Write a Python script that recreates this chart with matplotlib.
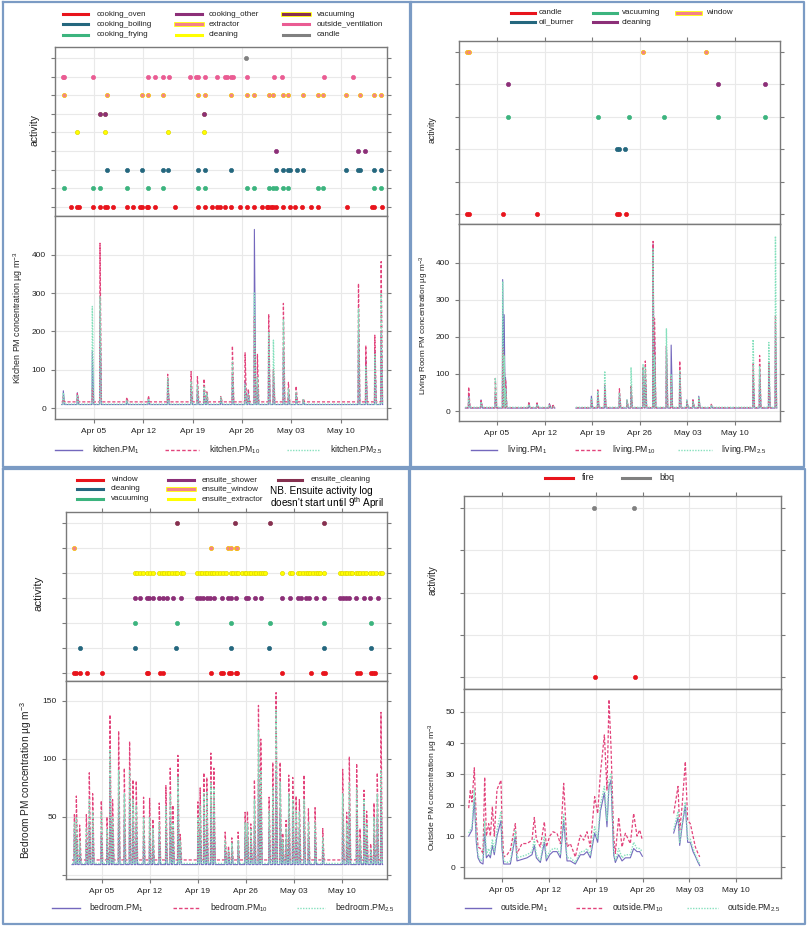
import matplotlib
matplotlib.use('Agg')
import matplotlib.pyplot as plt
import numpy as np
from matplotlib.lines import Line2D

plt.rcParams['font.family'] = ['Liberation Sans', 'DejaVu Sans']
plt.rcParams['mathtext.fontset'] = 'custom'
plt.rcParams['mathtext.rm'] = 'Liberation Sans'
plt.rcParams['mathtext.it'] = 'Liberation Sans:italic'

W, H = 807, 927

# x axis: days after 1 April
tick_days = [4, 11, 18, 25, 32, 39]
tick_labels = ['Apr 05', 'Apr 12', 'Apr 19', 'Apr 26', 'May 03', 'May 10']

# ---------------- kitchen activity log ----------------
kit_oven = [0.73, 1.54, 1.82, 3.81, 4.85, 5.56, 5.80, 6.75, 8.73, 9.59, 10.53, 10.77, 11.48, 11.72,
            12.71, 15.51, 18.73, 19.77, 20.81, 21.52, 21.90, 22.61, 23.46, 24.74, 25.69, 26.77,
            27.82, 28.53, 28.76, 29.09, 29.47, 29.85, 30.89, 31.84, 32.55, 33.50, 34.78, 35.87,
            39.89, 43.54, 43.77, 44.86]
kit_frying = [-0.21, 3.81, 4.85, 8.73, 11.72, 13.75, 18.73, 19.77, 25.78, 26.77, 28.90, 29.47,
              29.85, 30.89, 31.60, 35.87, 36.48, 43.77, 44.77]
kit_boiling = [5.80, 8.73, 10.77, 13.75, 14.46, 18.73, 19.77, 23.41, 29.85, 30.89, 31.60, 31.84,
               32.79, 33.73, 39.80, 41.55, 41.78, 43.77, 44.77]
kit_vacuuming = [29.85, 41.55, 42.49]
kit_cleaning = [1.54, 5.56, 14.46, 19.67]
kit_other = [4.85, 5.61, 19.67]
kit_extractor = [-0.21, 5.80, 10.77, 11.72, 13.75, 18.73, 19.77, 23.41, 25.78, 26.77, 28.90, 29.47,
                 30.89, 31.60, 33.73, 35.87, 36.48, 39.80, 41.78, 43.77, 44.77]
kit_outside_vent = [-0.45, -0.21, 3.81, 11.72, 12.71, 13.75, 14.70, 17.64, 18.49, 18.73, 19.77,
                    21.52, 22.66, 22.94, 23.41, 23.79, 25.78, 29.57, 30.70, 36.67, 40.74]
kit_candle = [25.54]

# kitchen PM spikes: day, PM1, PM10, PM2.5 peaks
kit_days = [-0.36, 1.63, 3.76, 4.85, 8.64, 11.72, 14.46, 17.78, 18.68, 19.62, 20.0, 22.0, 23.65,
            25.45, 25.9, 26.77, 27.2, 28.8, 29.47, 30.89, 31.6, 32.69, 33.7, 41.55, 42.59, 43.87, 44.77]
kit_pm1 = [45, 40, 150, 250, 18, 25, 75, 60, 50, 45, 35, 25, 90, 70, 40, 466, 60, 185, 95, 155, 40,
           35, 20, 200, 125, 150, 195]
kit_pm10 = [30, 38, 50, 430, 28, 32, 88, 95, 82, 76, 45, 30, 162, 144, 50, 238, 140, 245, 100, 273,
            67, 57, 25, 325, 163, 190, 382]
kit_pm25 = [40, 35, 265, 290, 20, 25, 80, 70, 60, 55, 40, 28, 120, 60, 35, 300, 80, 200, 177, 230,
            50, 40, 22, 260, 110, 140, 300]
kit_base = [9, 16, 10]

# ---------------- living room activity log ----------------
liv_candle = [-0.46, -0.12, 4.93, 9.83, 21.70, 21.99, 22.92]
liv_oil_burner = [21.70, 21.99, 22.87]
liv_vacuuming = [5.57, 18.80, 23.46, 28.61, 36.45, 43.41]
liv_cleaning = [5.57, 36.45, 43.41]
liv_window = [-0.36, -0.12, 25.52, 34.69]

liv_days = [-0.17, 1.65, 3.75, 4.83, 5.05, 5.25, 8.66, 9.88, 11.7, 12.2, 17.87, 18.8, 19.83, 21.99,
            23.1, 23.7, 25.47, 25.8, 26.94, 27.15, 28.9, 29.6, 30.86, 31.9, 32.8, 33.66, 35.5,
            41.65, 42.6, 43.95, 44.93]
liv_pm1 = [45, 30, 50, 355, 260, 90, 22, 20, 20, 15, 40, 50, 70, 45, 30, 60, 110, 100, 450, 200,
           175, 178, 100, 30, 30, 40, 15, 95, 110, 125, 240]
liv_pm10 = [65, 28, 88, 170, 150, 85, 25, 22, 18, 18, 30, 60, 70, 60, 28, 70, 120, 135, 458, 250,
            175, 95, 135, 25, 30, 35, 18, 130, 150, 130, 258]
liv_pm25 = [35, 25, 90, 350, 150, 60, 18, 18, 15, 12, 35, 55, 108, 50, 30, 118, 125, 120, 440, 150,
            222, 100, 110, 28, 25, 38, 15, 193, 120, 185, 472]
liv_base = [8, 9, 10]
liv_gap = (12.5, 15.6)

# ---------------- bedroom activity log ----------------
bed_window = [-0.08, 0.21, 0.79, 1.86, 3.95, 10.51, 10.75, 12.45, 12.84, 19.84, 21.35, 21.69, 22.56,
              22.80, 23.53, 23.73, 30.34, 34.56, 36.26, 36.51, 41.22, 41.61, 43.31, 43.55, 43.80]
bed_cleaning = [0.79, 8.81, 14.79, 22.80, 28.39, 36.36, 43.21]
bed_vacuuming = [8.81, 14.88, 22.80, 28.49, 36.36, 43.21]
bed_ens_shower = [8.81, 9.54, 10.51, 10.90, 11.39, 12.36, 12.94, 13.43, 14.40, 15.47, 17.90, 18.29,
                  18.77, 19.26, 19.74, 20.33, 21.59, 22.42, 22.80, 23.63, 25.09, 25.33, 26.30, 27.27,
                  30.34, 31.41, 32.62, 33.11, 33.84, 34.22, 35.20, 36.36, 38.69, 39.18, 39.67, 40.05,
                  41.03, 42.19, 43.16, 44.28]
bed_ens_extractor = [8.81, 9.15, 9.54, 10.03, 10.61, 11.00, 11.48, 12.36, 12.70, 13.04, 13.43, 13.82,
                     14.25, 14.59, 14.88, 15.47, 15.86, 17.90, 18.29, 18.67, 19.01, 19.35, 19.74,
                     20.03, 20.33, 20.72, 21.20, 21.69, 22.17, 22.76, 23.14, 23.63, 23.92, 24.51,
                     24.85, 25.09, 25.43, 25.82, 26.16, 26.55, 26.89, 27.27, 27.52, 27.86, 30.34,
                     31.50, 31.79, 32.62, 32.96, 33.35, 33.74, 34.08, 34.42, 34.81, 35.20, 35.54,
                     35.88, 36.36, 38.69, 39.03, 39.42, 39.76, 40.15, 40.54, 41.03, 41.37, 41.71,
                     42.10, 42.58, 43.07, 43.55, 44.04, 44.52, 44.91]
bed_ens_window = [-0.08, 19.84, 22.46, 22.76, 23.53, 23.73]
bed_ens_cleaning = [14.88, 23.48, 28.49, 36.36]

bed_days = [-0.03, 0.26, 0.74, 1.72, 2.15, 2.64, 3.9, 4.73, 5.17, 5.55, 6.43, 7.26, 8.03, 8.52, 9.0,
            10.07, 10.95, 11.43, 12.36, 13.33, 13.96, 14.35, 15.08, 15.42, 18.0, 18.33, 18.87, 19.3,
            19.89, 20.33, 21.98, 22.46, 22.95, 23.87, 24.89, 25.23, 25.72, 26.25, 26.84, 27.18,
            28.39, 28.93, 29.41, 30.0, 30.38, 30.87, 31.26, 31.84, 32.33, 32.81, 33.49, 34.13,
            35.1, 36.22, 39.13, 39.71, 40.1, 41.17, 41.66, 42.24, 42.63, 43.21, 43.7, 44.18, 44.72]
bed_pm1 = [40, 35, 25, 30, 45, 40, 35, 30, 85, 40, 60, 50, 65, 45, 45, 35, 35, 30, 35, 40, 50, 35,
           60, 25, 35, 40, 50, 45, 60, 55, 25, 20, 22, 25, 35, 35, 30, 45, 85, 65, 40, 55, 90, 55,
           25, 30, 50, 50, 40, 40, 50, 35, 35, 25, 50, 30, 55, 55, 25, 60, 35, 20, 35, 50, 73]
bed_pm10 = [52, 68, 43, 52, 88, 70, 64, 50, 138, 65, 124, 92, 115, 82, 81, 67, 66, 48, 62, 77, 92,
            60, 103, 35, 63, 75, 88, 84, 105, 92, 37, 25, 32, 37, 54, 55, 44, 82, 146, 117, 67, 97,
            157, 97, 36, 47, 86, 84, 68, 65, 86, 57, 58, 40, 91, 54, 102, 96, 40, 73, 55, 27, 62,
            88, 140]
bed_pm25 = [45, 50, 30, 40, 65, 55, 55, 40, 108, 50, 90, 70, 90, 65, 60, 50, 50, 40, 45, 60, 70, 45,
            85, 30, 50, 60, 70, 72, 80, 75, 30, 22, 28, 30, 45, 45, 40, 65, 125, 90, 55, 75, 142,
            80, 30, 40, 70, 65, 55, 55, 65, 45, 45, 32, 70, 45, 80, 75, 30, 65, 45, 22, 50, 70, 90]
bed_base = [9, 13, 10]

# ---------------- outside activity log ----------------
out_fire = [17.90, 23.88]
out_bbq = [17.75, 23.73]

out_days = [-0.98, -0.73, -0.48, -0.14, 0.16, 0.41, 0.76, 1.16, 1.41, 1.66, 2.01, 2.26, 2.56, 2.85,
            3.25, 3.85, 4.0, 4.25, 4.75, 5.25, 5.99, 6.24, 6.99, 7.74, 8.48, 8.83, 9.13, 9.73, 10.33,
            10.63, 11.13, 11.62, 12.22, 12.72, 13.22, 13.72, 14.21, 14.96, 15.71, 16.21, 16.71,
            17.20, 17.85, 18.30, 18.70, 19.30, 19.69, 19.99, 20.29, 20.69, 20.94, 21.44, 21.94,
            22.44, 23.18, 23.68, 24.18, 24.58, 24.98, 25.0,
            29.66, 30.31, 30.56, 30.91, 31.40, 31.75, 32.15, 32.55, 32.90, 33.30, 33.55]
out_pm10 = [19, 25, 21, 32, 15, 6.5, 6, 4.4, 29, 10, 14, 10, 19.5, 10, 25, 28, 14, 3.3, 4, 5.5, 14,
            4.4, 7.6, 7.6, 8.7, 16, 9, 6.5, 14.6, 6.5, 10, 11.4, 10.9, 7.6, 27, 6.5, 7.6, 3.3, 10.3,
            8.7, 11.4, 6.5, 22.7, 17.3, 30, 42.6, 24.8, 54, 38.8, 10, 4.4, 16, 6.5, 10.9, 7.6, 17.3,
            10, 12, 8.7, np.nan,
            17.3, 26, 12, 19.5, 34, 15, 14, 10, 6.5, 4.4, 3.3]
out_pm25 = [11, 12, 13, 25, 10, 4, 2, 2.5, 15, 4, 6, 4, 9, 5, 12, 18, 8, 2, 1.5, 2, 12, 3, 3.5, 4, 5,
            9, 4, 2, 10, 3, 5, 6, 6, 4, 17, 3, 3, 1.5, 5, 5, 6, 4, 13, 9, 20, 26, 15, 28, 30, 5, 2, 6,
            3, 4, 4, 8, 6, 6, 5, np.nan,
            12, 18, 8, 14, 21, 9, 9, 6, 4, 2, 1]
out_pm1 = [10, 11, 12, 22, 8, 3, 1.5, 1, 12, 3, 4, 3, 7, 4, 10, 15, 6, 1, 1, 1, 10, 2, 2.5, 3, 4, 7,
           3, 1.5, 8, 2, 4, 5, 5, 3, 15, 2, 2, 1, 4, 4, 5, 3, 11, 8, 18, 24, 13, 26, 28, 4, 1.5, 4,
           2, 3, 3, 6, 5, 5, 3.5, np.nan,
           11, 16, 7, 13, 20, 8, 8, 5, 3.5, 1.5, 0.5]

# ---------------- styles ----------------
RED, TEAL, GREEN = '#e8141c', '#24677e', '#3cb47e'
PURPLE, MAROON, SALMON = '#8c2f78', '#86304f', '#f3818a'
YELLOW, PINK, GRAY = '#ffff00', '#ea5c93', '#808080'
PM1_C, PM10_C, PM25_C = '#7468bd', '#e2437b', '#86e0bd'
FRAME = '#7a7a7a'
GRID = '#e9e9e9'

fig = plt.figure(figsize=(W / 100, H / 100), dpi=100)


def px_axes(x0, y0, x1, y1):
    return fig.add_axes([x0 / W, 1 - y1 / H, (x1 - x0) / W, (y1 - y0) / H])


def style_frame(ax):
    for s in ax.spines.values():
        s.set_color(FRAME)
        s.set_linewidth(1.0)
    ax.tick_params(colors=FRAME, labelcolor='#222222', length=3, width=0.8, labelsize=6)
    ax.set_axisbelow(True)
    ax.grid(True, color=GRID, lw=0.8)


def activity_axes(rect, xlim, ylim, nlev, rows, top_ticks=True):
    ax = px_axes(*rect)
    style_frame(ax)
    for lev, days, fc, ec in rows:
        ax.plot(days, [lev] * len(days), 'o', ms=3.0, mfc=fc, mec=ec, mew=0.5, ls='none')
    ax.set_xlim(*xlim)
    ax.set_ylim(*ylim)
    ax.set_yticks(range(1, nlev + 1))
    ax.set_xticks(tick_days)
    ax.tick_params(axis='y', left=True, right=True, labelleft=False)
    ax.tick_params(axis='x', bottom=False, top=top_ticks, labelbottom=False)
    return ax


def spike_series(start, end, base, days, peaks, gap=None):
    pts = [(start, base), (end, base)]
    for d, p in zip(days, peaks):
        pts += [(d - 0.05, base), (d, p), (d + 0.2, base)]
    if gap:
        pts += [(gap[0], base), (gap[0] + 0.01, np.nan), (gap[1], base)]
    pts.sort(key=lambda t: t[0])
    x, y = zip(*pts)
    return np.array(x), np.array(y)


def pm_axes(rect, xlim, ylim, yticks, ylabels, series):
    ax = px_axes(*rect)
    style_frame(ax)
    (x1, y1), (x10, y10), (x25, y25) = series
    ax.plot(x1, y1, color=PM1_C, lw=0.8)
    ax.plot(x10, y10, color=PM10_C, lw=0.9, dashes=(2.5, 1.5))
    ax.plot(x25, y25, color=PM25_C, lw=1.0, dashes=(1, 1))
    ax.set_xlim(*xlim)
    ax.set_ylim(*ylim)
    ax.set_xticks(tick_days)
    ax.set_xticklabels(tick_labels)
    ax.set_yticks(yticks)
    ax.set_yticklabels(ylabels)
    ax.tick_params(axis='y', left=True, right=True)
    return ax


def legend_row(y, entries, size=5.8):
    # entries: (line x0, line x1, text x, color, edge, kind, label)
    for x0, x1, xt, col, edge, kind, lab in entries:
        if kind == 'act':
            if edge:
                fig.add_artist(Line2D([x0 / W, x1 / W], [1 - y / H] * 2, color=edge, lw=3.4,
                                      transform=fig.transFigure))
            fig.add_artist(Line2D([x0 / W, x1 / W], [1 - y / H] * 2, color=col, lw=2.2,
                                  transform=fig.transFigure))
        else:
            dash = {'solid': None, 'dash': (2.5, 1.5), 'dot': (1, 1)}[kind]
            ln = Line2D([x0 / W, x1 / W], [1 - y / H] * 2, color=col, lw=1.0,
                        transform=fig.transFigure)
            if dash:
                ln.set_dashes(dash)
            fig.add_artist(ln)
        fig.text(xt / W, 1 - y / H, lab, fontsize=size, va='center', ha='left', color='#222222')


def vlabel(x, y, s, size):
    fig.text(x / W, 1 - y / H, s, rotation=90, fontsize=size, ha='center', va='center',
             color='#222222')


def pm_legend(y, xs, room):
    labs = [room + r'.PM$_{1}$', room + r'.PM$_{10}$', room + r'.PM$_{2.5}$']
    kinds = ['solid', 'dash', 'dot']
    cols = [PM1_C, PM10_C, PM25_C]
    legend_row(y, [(a, b, c, col, None, k, l) for (a, b, c), col, k, l in zip(xs, cols, kinds, labs)],
               size=6.2)


UNIT = r' PM concentration µg m$^{-3}$'

# ---------------- kitchen ----------------
activity_axes((55, 47, 387, 216), (-1.54, 45.6), (0.5, 9.6), 9,
              [(1, kit_oven, RED, RED), (2, kit_frying, GREEN, GREEN), (3, kit_boiling, TEAL, TEAL),
               (4, kit_vacuuming, PURPLE, PURPLE), (5, kit_cleaning, YELLOW, '#e0d800'),
               (6, kit_other, PURPLE, MAROON), (7, kit_extractor, SALMON, '#f5c000'),
               (8, kit_outside_vent, PINK, PINK), (9, kit_candle, GRAY, GRAY)], top_ticks=False)
pm_axes((55, 216, 387, 419), (-1.54, 45.6), (-28.7, 501), [0, 100, 200, 300, 400],
        ['0', '100', '200', '300', '400'],
        [spike_series(-0.6, 44.98, b, kit_days, pk) for b, pk in zip(kit_base, [kit_pm1, kit_pm10, kit_pm25])])
legend_row(14, [(63, 88, 97, RED, None, 'act', 'cooking_oven'),
                (176, 202, 209, PURPLE, None, 'act', 'cooking_other'),
                (283, 309, 317, MAROON, YELLOW, 'act', 'vacuuming')])
legend_row(24, [(63, 88, 97, TEAL, None, 'act', 'cooking_boiling'),
                (176, 202, 209, SALMON, YELLOW, 'act', 'extractor'),
                (283, 309, 317, PINK, None, 'act', 'outside_ventilation')])
legend_row(35, [(63, 88, 97, GREEN, None, 'act', 'cooking_frying'),
                (176, 202, 209, YELLOW, None, 'act', 'cleaning'),
                (283, 309, 317, GRAY, None, 'act', 'candle')])
pm_legend(450, [(55, 82, 92), (165, 199, 209), (287, 320, 330)], 'kitchen')
vlabel(35, 130, 'activity', 7.5)
vlabel(18, 318, 'Kitchen' + UNIT, 6.4)

# ---------------- living room ----------------
activity_axes((459, 41, 780, 224), (-1.59, 45.6), (0.69, 6.34), 6,
              [(1, liv_candle, RED, RED), (3, liv_oil_burner, TEAL, TEAL),
               (4, liv_vacuuming, GREEN, GREEN), (5, liv_cleaning, PURPLE, PURPLE),
               (6, liv_window, SALMON, '#f5c000')])
pm_axes((459, 224, 780, 421), (-1.59, 45.6), (-27, 505), [0, 100, 200, 300, 400],
        ['0', '100', '200', '300', '400'],
        [spike_series(-0.66, 45.1, b, liv_days, pk, liv_gap)
         for b, pk in zip(liv_base, [liv_pm1, liv_pm10, liv_pm25])])
legend_row(13, [(511, 535, 539, RED, None, 'act', 'candle'),
                (593, 617, 622, GREEN, None, 'act', 'vacuuming'),
                (677, 700, 706, SALMON, YELLOW, 'act', 'window')])
legend_row(22, [(511, 535, 539, TEAL, None, 'act', 'oil_burner'),
                (593, 617, 622, PURPLE, None, 'act', 'cleaning')])
pm_legend(450, [(471, 497, 507), (575, 602, 612), (678, 712, 721)], 'living')
vlabel(432, 130, 'activity', 6.3)
vlabel(424, 325, 'Living Room' + UNIT, 5.9)

# ---------------- bedroom ----------------
activity_axes((66, 512, 387, 681), (-1.25, 45.6), (0.68, 7.44), 7,
              [(1, bed_window, RED, RED), (2, bed_cleaning, TEAL, TEAL),
               (3, bed_vacuuming, GREEN, GREEN), (4, bed_ens_shower, PURPLE, PURPLE),
               (5, bed_ens_extractor, YELLOW, '#e0d800'), (6, bed_ens_window, SALMON, '#f5c000'),
               (7, bed_ens_cleaning, MAROON, MAROON)])
pm_axes((66, 681, 387, 879), (-1.25, 45.6), (-3.4, 167), [0, 50, 100, 150],
        ['', '50', '100', '150'],
        [spike_series(-0.37, 44.96, b, bed_days, pk) for b, pk in zip(bed_base, [bed_pm1, bed_pm10, bed_pm25])])
legend_row(480, [(77, 103, 111, RED, None, 'act', 'window'),
                 (168, 194, 202, PURPLE, None, 'act', 'ensuite_shower'),
                 (278, 302, 311, MAROON, None, 'act', 'ensuite_cleaning')])
legend_row(489, [(77, 103, 111, TEAL, None, 'act', 'cleaning'),
                 (168, 194, 202, SALMON, YELLOW, 'act', 'ensuite_window')])
legend_row(499, [(77, 103, 111, GREEN, None, 'act', 'vacuuming'),
                 (168, 194, 202, YELLOW, None, 'act', 'ensuite_extractor')])
fig.text(270 / W, 1 - 491 / H, 'NB. Ensuite activity log', fontsize=7.2, va='center', ha='left')
fig.text(270 / W, 1 - 503 / H, "doesn't start until 9$^{\\mathrm{th}}$ April", fontsize=7.2,
         va='center', ha='left')
pm_legend(908, [(52, 80, 89), (173, 199, 210), (297, 325, 335)], 'bedroom')
vlabel(38, 593, 'activity', 8.2)
vlabel(26, 780, 'Bedroom' + UNIT, 7.3)

# ---------------- outside ----------------
activity_axes((464, 496, 781, 689), (-1.68, 45.7), (0.72, 5.28), 5,
              [(1, out_fire, RED, RED), (5, out_bbq, GRAY, GRAY)])
pm_axes((464, 689, 781, 878), (-1.68, 45.7), (-3.5, 57.4), [0, 10, 20, 30, 40, 50],
        ['0', '10', '20', '30', '40', '50'],
        [(np.array(out_days), np.array(v)) for v in (out_pm1, out_pm10, out_pm25)])
legend_row(478, [(545, 573, 582, RED, None, 'act', 'fire'),
                 (622, 650, 659, GRAY, None, 'act', 'bbq')], size=6.5)
pm_legend(908, [(465, 491, 500), (576, 602, 612), (687, 718, 727)], 'outside')
vlabel(433, 580, 'activity', 7.0)
vlabel(433, 787, 'Outside' + UNIT, 6.1)

# panel borders
BORDER = '#7b9bc4'
for x0, y0, x1, y1 in [(3, 2, 410, 467), (411, 2, 804, 467), (3, 469, 409, 924), (410, 469, 805, 924)]:
    xs = [x0 / W, x1 / W, x1 / W, x0 / W, x0 / W]
    ys = [1 - y0 / H, 1 - y0 / H, 1 - y1 / H, 1 - y1 / H, 1 - y0 / H]
    fig.add_artist(Line2D(xs, ys, color=BORDER, lw=1.6, transform=fig.transFigure))

fig.savefig('out.png', dpi=100)
